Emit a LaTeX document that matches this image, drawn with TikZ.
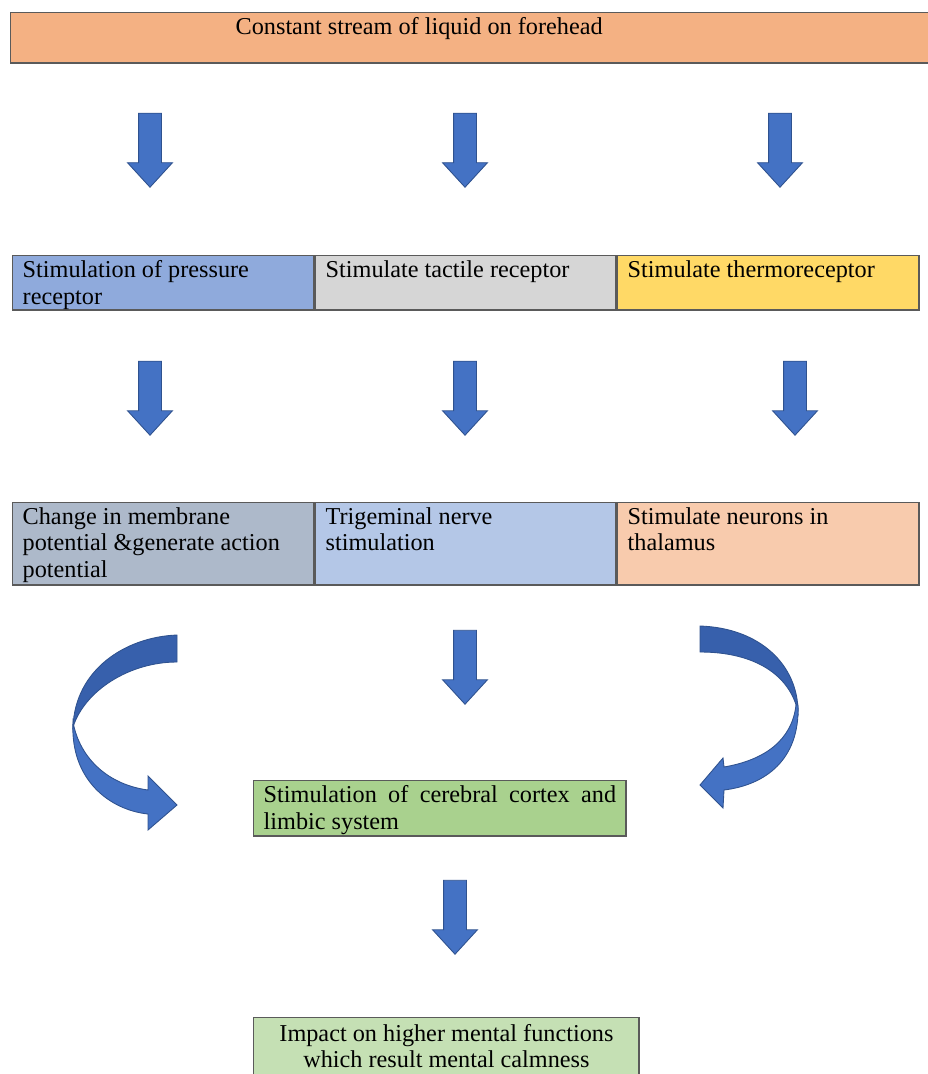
\documentclass[tikz,border=0pt]{standalone}
\usepackage{fontspec}
\setmainfont{Liberation Serif}
\usetikzlibrary{shapes.arrows}

\definecolor{boxline}{HTML}{5A5A5A}
\definecolor{arrowblue}{HTML}{4472C4}
\definecolor{arrowdark}{HTML}{3760AC}
\definecolor{arrowline}{HTML}{2F528F}
\definecolor{topfill}{HTML}{F4B183}
\definecolor{pressfill}{HTML}{8FAADC}
\definecolor{tactfill}{HTML}{D6D6D6}
\definecolor{thermfill}{HTML}{FFD966}
\definecolor{membfill}{HTML}{ADB9CA}
\definecolor{trigfill}{HTML}{B4C7E7}
\definecolor{thalfill}{HTML}{F8CBAD}
\definecolor{cortfill}{HTML}{A9D18E}
\definecolor{calmfill}{HTML}{C5E0B4}

\newcommand{\boxtext}[3]{\parbox[c][#1][t]{#2}{#3}}

\tikzset{
  box/.style={draw=boxline, line width=0.8pt, rectangle, inner xsep=0.2cm, inner ysep=0.1cm, anchor=north west, font=\fontsize{13.8}{15}\selectfont},
  downarrow/.style={single arrow, draw=arrowline, fill=arrowblue, line width=0.5pt, shape border rotate=270, minimum height=1.48cm, single arrow head extend=0.22cm, single arrow tip angle=85, inner sep=0.22cm},
  bentarrow/.style={draw=arrowline, line width=0.5pt}
}

\begin{document}
\begin{tikzpicture}[x=0.02cm, y=-0.02cm]
\useasboundingbox (0,0) rectangle (927,1074);
\node[box, fill=topfill] (S) at (10,12) {\boxtext{0.81cm}{18.07cm}{\hspace*{4.3cm}Constant stream of liquid on forehead}};
\node[box, fill=pressfill] (P) at (12,255) {\boxtext{0.89cm}{5.63cm}{Stimulation of pressure\\receptor}};
\node[box, fill=tactfill] (T) at (315,255) {\boxtext{0.89cm}{5.61cm}{Stimulate tactile receptor}};
\node[box, fill=thermfill] (H) at (617,255) {\boxtext{0.89cm}{5.63cm}{Stimulate thermoreceptor}};
\node[box, fill=membfill] (M) at (12,502) {\boxtext{1.45cm}{5.63cm}{Change in membrane\\potential \&generate action\\potential}};
\node[box, fill=trigfill] (N) at (315,502) {\boxtext{1.45cm}{5.61cm}{Trigeminal nerve\\stimulation}};
\node[box, fill=thalfill] (L) at (617,502) {\boxtext{1.45cm}{5.63cm}{Stimulate neurons in\\thalamus}};
\node[box, fill=cortfill] (C) at (253,780) {\boxtext{0.91cm}{7.05cm}{Stimulation of cerebral cortex and\linebreak limbic system}};
\node[box, fill=calmfill] (K) at (253,1017) {\boxtext{1.0cm}{7.31cm}{\centering\vspace*{1pt}Impact on higher mental functions\\ which result mental calmness}};
\node[downarrow] (a1) at (150,144) {};
\node[downarrow] (a2) at (465,144) {};
\node[downarrow] (a3) at (780,144) {};
\node[downarrow] (a4) at (150,392) {};
\node[downarrow] (a5) at (465,392) {};
\node[downarrow] (a6) at (795,392) {};
\node[downarrow] (a7) at (465,661) {};
\node[downarrow] (a8) at (455,911) {};
\filldraw[bentarrow, fill=arrowdark] (177,635) .. controls (125,637) and (75,670) .. (73,727) .. controls (85,690) and (130,662) .. (177,662) -- cycle;
\filldraw[bentarrow, fill=arrowblue] (73,722) .. controls (70,780) and (110,810) .. (148,814) -- (148,830) -- (177,805) -- (148,776) -- (148,790) .. controls (110,785) and (80,760) .. (73,722) -- cycle;
\filldraw[bentarrow, fill=arrowdark] (700,626) .. controls (760,628) and (798,665) .. (798,712) .. controls (790,675) and (755,652) .. (700,652) -- cycle;
\filldraw[bentarrow, fill=arrowblue] (798,705) .. controls (800,760) and (765,785) .. (724,790) -- (723,808) -- (700,785) -- (723,758) -- (724,767) .. controls (765,760) and (792,740) .. (796,705) -- cycle;
\end{tikzpicture}
\end{document}
